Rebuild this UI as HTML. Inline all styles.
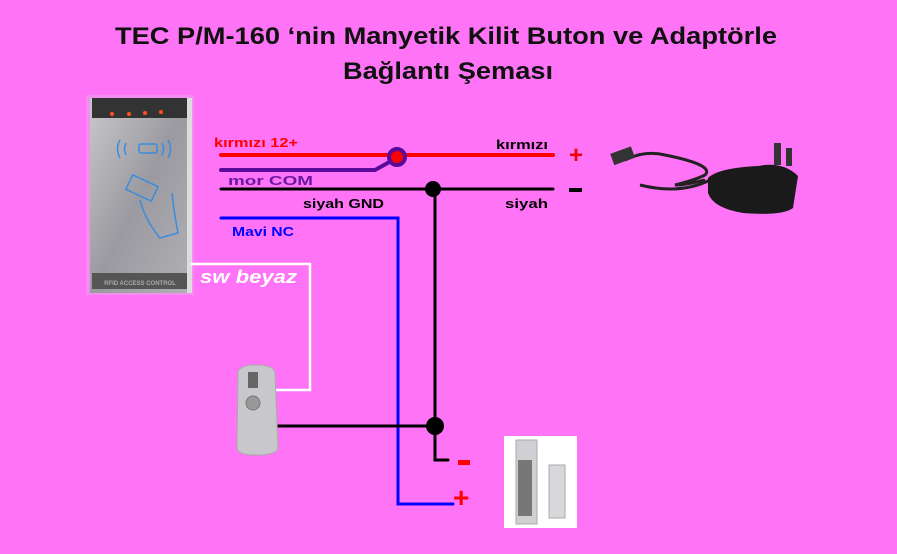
<!DOCTYPE html>
<html><head><meta charset="utf-8"><style>
html,body{margin:0;padding:0;background:#ff73f7;width:897px;height:554px;overflow:hidden}
svg{display:block}
text{font-family:"Liberation Sans",sans-serif;font-weight:bold}
</style></head><body>
<svg width="897" height="554" viewBox="0 0 897 554" xmlns="http://www.w3.org/2000/svg">
<rect width="897" height="554" fill="#ff73f7"/>
<text x="115" y="44" font-size="24" textLength="662" lengthAdjust="spacingAndGlyphs" fill="#111">TEC P/M-160  ‘nin  Manyetik Kilit  Buton ve  Adaptörle</text>
<text x="343" y="79" font-size="24" textLength="210" lengthAdjust="spacingAndGlyphs" fill="#111">Bağlantı Şeması</text>
<!-- reader -->
<defs><linearGradient id="g1" x1="0" y1="0" x2="1" y2="1"><stop offset="0" stop-color="#c9c9cc"/><stop offset="0.5" stop-color="#9a9aa0"/><stop offset="1" stop-color="#b0b0b5"/></linearGradient></defs>
<rect x="86" y="95" width="108" height="200" fill="#e9a0ea" opacity="0.6"/>
<rect x="90" y="98" width="100" height="195" fill="url(#g1)"/>
<rect x="92" y="98" width="95" height="20" fill="#333"/>
<circle cx="112" cy="114" r="2" fill="#ff5020"/><circle cx="129" cy="114" r="2" fill="#ff5020"/><circle cx="145" cy="113" r="2" fill="#ff5020"/><circle cx="161" cy="112" r="2" fill="#ff5020"/>
<rect x="92" y="273" width="95" height="16" fill="#555"/>
<text x="140" y="285" font-size="6" text-anchor="middle" fill="#aaa" font-weight="normal">RFID ACCESS CONTROL</text>
<rect x="187" y="98" width="5" height="195" fill="#ddd"/>
<g stroke="#3a8ce0" fill="none" stroke-width="1.5"><path d="M120 140 q-5 9 0 18"/><path d="M126 143 q-3 6 0 12"/><path d="M168 140 q5 9 0 18"/><path d="M162 143 q3 6 0 12"/><rect x="139" y="144" width="18" height="9" rx="2"/><rect x="128" y="180" width="28" height="16" transform="rotate(25 142 188)"/><path d="M140 200 q5 20 20 38 l18 -5 q-4 -20 -6 -40"/></g>
<!-- wires -->
<g fill="none" stroke-linecap="round">
<line x1="221" y1="155" x2="553" y2="155" stroke="#f00" stroke-width="4"/>
<polyline points="221,170 375,170 393,160" stroke="#5a0a9a" stroke-width="4"/>
<line x1="221" y1="189" x2="553" y2="189" stroke="#000" stroke-width="3"/>
<polyline points="435,189 435,460 448,460" stroke="#000" stroke-width="3"/>
<polyline points="221,218 398,218 398,504 453,504" stroke="#00f" stroke-width="3"/>
<polyline points="192,264 310,264 310,390 276,390" stroke="#fff" stroke-width="2.5"/>
<line x1="275" y1="426" x2="435" y2="426" stroke="#000" stroke-width="3"/>
</g>
<circle cx="397" cy="157" r="8" fill="#f00" stroke="#5a0a9a" stroke-width="4"/>
<circle cx="433" cy="189" r="8" fill="#000"/>
<circle cx="435" cy="426" r="9" fill="#000"/>
<text x="214" y="147" font-size="13" textLength="84" lengthAdjust="spacingAndGlyphs" fill="#f00">kırmızı 12+</text>
<text x="228" y="185" font-size="13" textLength="85" lengthAdjust="spacingAndGlyphs" fill="#6a1aa0">mor COM</text>
<text x="303" y="208" font-size="13" textLength="81" lengthAdjust="spacingAndGlyphs" fill="#000">siyah GND</text>
<text x="232" y="236" font-size="13" textLength="62" lengthAdjust="spacingAndGlyphs" fill="#00f">Mavi NC</text>
<text x="496" y="149" font-size="13" textLength="52" lengthAdjust="spacingAndGlyphs" fill="#000">kırmızı</text>
<text x="505" y="208" font-size="13" textLength="43" lengthAdjust="spacingAndGlyphs" fill="#000">siyah</text>
<text x="200" y="283" font-size="18" textLength="97" lengthAdjust="spacingAndGlyphs" fill="#fff" font-style="italic">sw beyaz</text>
<text x="569" y="163" font-size="24" fill="#e00">+</text>
<rect x="569" y="188" width="13" height="4" fill="#000"/>
<rect x="458" y="460" width="12" height="5" fill="#f00"/>
<text x="453" y="507" font-size="28" fill="#f00">+</text>
<!-- adapter -->
<g fill="none" stroke="#222" stroke-width="3"><path d="M625 160 q20 -10 40 -5 q50 10 40 20 q-10 5 -30 10 q10 0 30 -5"/><path d="M710 180 q-30 15 -70 5"/></g>
<rect x="612" y="150" width="22" height="12" fill="#333" transform="rotate(-20 622 157)"/>
<path d="M708 178 q10 -10 50 -12 q25 -5 40 10 l-5 32 q-10 8 -50 5 q-30 -5 -35 -20 z" fill="#1a1a1a"/>
<rect x="774" y="143" width="7" height="22" fill="#333"/>
<rect x="786" y="148" width="6" height="18" fill="#333"/>
<!-- button -->
<path d="M238 372 q2 -7 18 -7 q18 0 19 8 l3 75 q-1 7 -22 7 q-20 0 -19 -8 z" fill="#c8c8cc" stroke="#aaa"/>
<rect x="248" y="372" width="10" height="16" fill="#666"/>
<circle cx="253" cy="403" r="7" fill="#999" stroke="#777"/>
<!-- mag lock -->
<rect x="504" y="436" width="73" height="92" fill="#fff"/>
<rect x="516" y="440" width="21" height="84" fill="#d0d0d4" stroke="#aaa"/>
<rect x="518" y="460" width="14" height="56" fill="#777"/>
<rect x="549" y="465" width="16" height="53" fill="#d8d8dc" stroke="#aaa"/>
</svg>
</body></html>
